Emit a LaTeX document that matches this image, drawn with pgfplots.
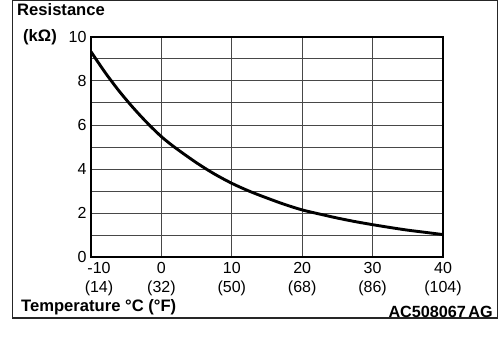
\documentclass[border=0pt]{standalone}
\usepackage{fontspec}
\setmainfont{Liberation Sans}
\usepackage{pgfplots}
\pgfplotsset{compat=1.18}
\begin{document}
\fontsize{16}{19.2}\selectfont
\begin{tikzpicture}
\path[use as bounding box] (0pt,0pt) rectangle (500pt,362pt);
\draw[line width=1.4pt, black!85] (12.5pt,361.3pt) rectangle (497.5pt,44pt);
\begin{axis}[
  at={(91pt,105pt)}, anchor=south west,
  scale only axis, width=352pt, height=220pt,
  xmin=-10, xmax=40, ymin=0, ymax=10,
  xtick={-10,0,10,20,30,40},
  xticklabels={{\hspace*{16pt}-10\\\hspace*{16pt}(14)},{0\\(32)},{10\\(50)},{20\\(68)},{30\\(86)},{40\\(104)}},
  xticklabel style={align=center, font=\fontsize{16}{19.2}\selectfont},
  ytick={0,2,...,10}, minor ytick={1,3,...,9},
  yticklabel style={font=\fontsize{16}{19.2}\selectfont, xshift=1pt},
  /pgf/number format/assume math mode=true,
  major tick length=0pt, minor tick length=0pt,
  grid=both,
  major grid style={line width=1pt, black!72},
  minor grid style={line width=1pt, black!72},
  axis line style={line width=1.4pt, black},
]
\addplot[black, line width=2.9pt, smooth] coordinates {
(-10,9.33) (-8,8.39) (-6,7.54) (-4,6.78) (-2,6.09) (0,5.47) (2,4.96)
(5,4.28) (7.5,3.78) (10,3.35) (12.5,2.99) (15,2.68) (17.5,2.39)
(20,2.14) (22.5,1.95) (25,1.77) (27.5,1.61) (30,1.47) (32.5,1.34)
(35,1.22) (37.5,1.12) (40,1.02)
};
\end{axis}
\node[anchor=base west, inner sep=0pt, font=\bfseries\fontsize{16.6}{19}\selectfont] at (17pt,346pt) {Resistance};
\node[anchor=base west, inner sep=0pt, font=\bfseries\fontsize{16.6}{19}\selectfont] at (23pt,320.5pt) {(kΩ)};
\node[anchor=base west, inner sep=0pt, font=\bfseries\fontsize{16.6}{19}\selectfont] at (21pt,51pt) {Temperature °C (°F)};
\node[anchor=base east, inner sep=0pt, font=\bfseries\fontsize{16.2}{19}\selectfont] at (493pt,45pt) {AC508067\hspace{-2pt} AG};
\end{tikzpicture}
\end{document}
